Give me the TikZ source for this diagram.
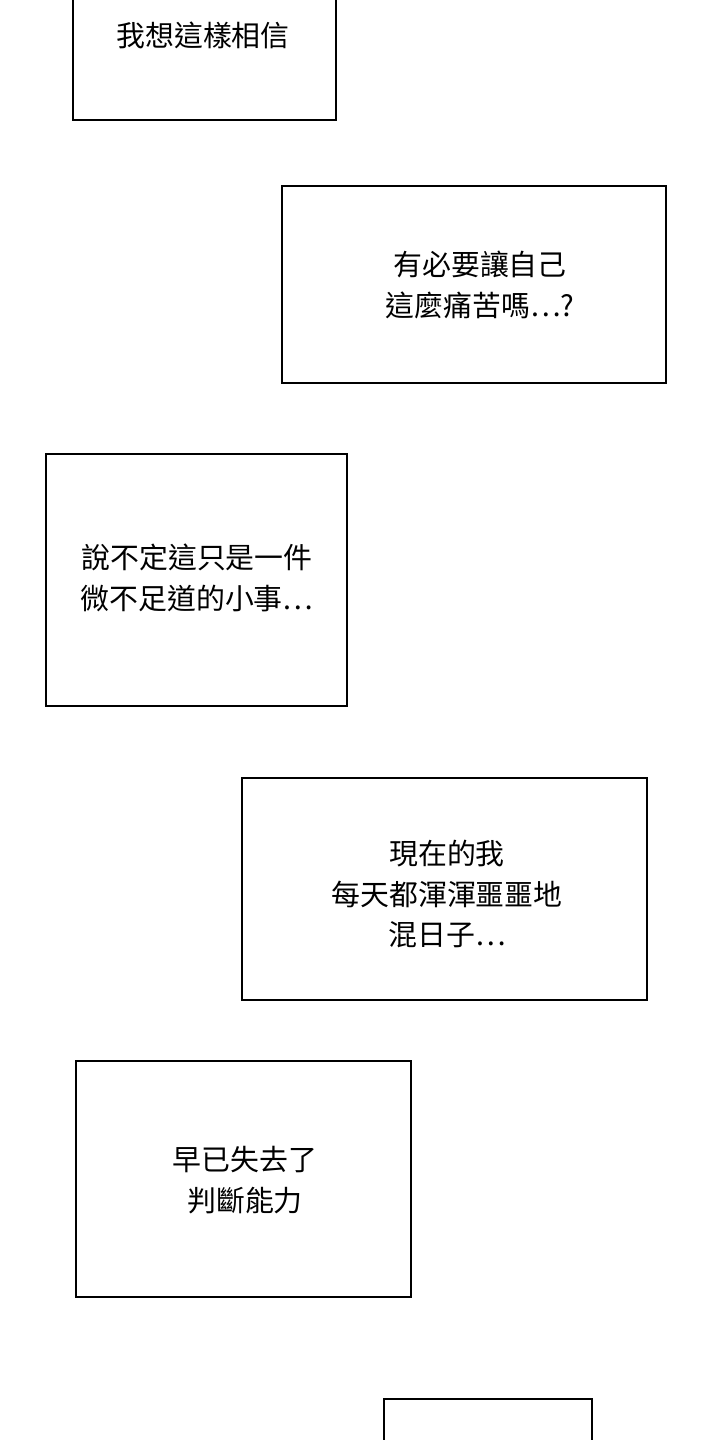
\documentclass[tikz,border=0pt]{standalone}
\usepackage{fontspec}
\newfontfamily\cjk{Noto Sans CJK TC}
\usetikzlibrary{positioning}
\begin{document}
\begin{tikzpicture}[x=1bp,y=-1bp,
	panel/.style={draw=black,line width=1.3bp},
	caption/.style={align=center,font=\cjk\fontsize{29}{41}\selectfont,inner sep=0pt}]
	\useasboundingbox (0,0) rectangle (720,1440);
	
	% panels:
	\draw[panel] (73,-5) rectangle (336,120);
	\node[caption] (t1) at (203,35) {我想這樣相信};
	
	\draw[panel] (282,186) rectangle (666,383);
	\node[caption] (t2) at (480,285) {有必要讓自己\\這麼痛苦嗎…?};
	
	\draw[panel] (46,454) rectangle (347,706);
	\node[caption] (t3) at (197,578) {說不定這只是一件\\微不足道的小事…};
	
	\draw[panel] (242,778) rectangle (647,1000);
	\node[caption] (t4) at (447,894) {現在的我\\每天都渾渾噩噩地\\混日子…};
	
	\draw[panel] (76,1061) rectangle (411,1297);
	\node[caption] (t5) at (245,1180) {早已失去了\\判斷能力};
	
	\draw[panel] (384,1399) rectangle (592,1450);
\end{tikzpicture}
\end{document}
